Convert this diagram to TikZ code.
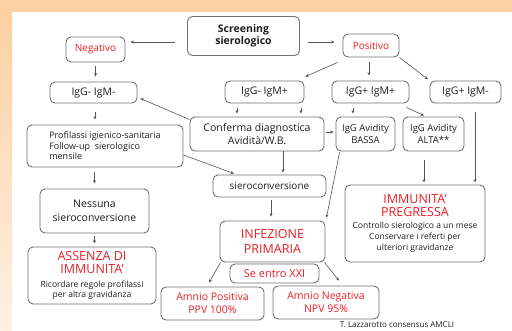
\documentclass[tikz,border=0pt]{standalone}
\usepackage{fontspec}
\setmainfont{Open Sans}
\usetikzlibrary{arrows.meta}

\definecolor{redtxt}{RGB}{236,30,38}
\definecolor{boxline}{RGB}{112,112,112}
\definecolor{wire}{RGB}{85,85,85}
\definecolor{inktxt}{RGB}{30,30,30}
\definecolor{bandtop}{RGB}{252,208,162}
\definecolor{bandlow}{RGB}{254,240,228}

% red headline text inside boxes
\newcommand\hotline[1]{{\color{redtxt}#1}}

\tikzset{
  box/.style={draw=boxline, line width=0.9pt, rounded corners=5pt, fill=white,
              inner sep=1pt, align=center, text=inktxt},
  fz/.style 2 args={font=\fontsize{#1}{#2}\selectfont},
  hot/.style={text=redtxt},
  arr/.style={draw=wire, line width=0.6pt, -{Stealth[length=3.4pt,width=3pt]}},
}

\begin{document}
\begin{tikzpicture}[x=1pt,y=-1pt]
\useasboundingbox (0,0) rectangle (512,331);

% page background: orange band on top and shaded band on the left
\fill[white] (0,0) rectangle (512,331);
\fill[bandtop] (0,0) rectangle (512,12);
\shade[top color=bandtop, bottom color=bandlow] (0,12) rectangle (12,331);

% ---- first level
\node[box, minimum width=112pt, minimum height=39pt, font=\bfseries\fontsize{10.5}{12.5}\selectfont]
  (scr) at (243.5,36) {Screening\\sierologico};
\node[box, hot, minimum width=59pt, minimum height=25pt, fz={10}{12}] (neg) at (95.5,49.5) {Negativo};
\node[box, hot, minimum width=56pt, minimum height=23pt, fz={10}{12}] (pos) at (371,45.5) {Positivo};

% ---- serology results
\node[box, minimum width=87pt, minimum height=21pt, fz={10.5}{12}] (iggL) at (93.5,92.5) {IgG- IgM-};
\node[box, minimum width=79pt, minimum height=22pt, fz={10.5}{12}] (igmP) at (264.5,92) {IgG- IgM+};
\node[box, minimum width=77pt, minimum height=22pt, fz={10.5}{12}] (iggPP) at (370.5,92) {IgG+ IgM+};
\node[box, minimum width=71pt, minimum height=22pt, fz={10.5}{12}] (iggPM) at (465.5,92) {IgG+ IgM-};

% ---- second row
\node[box, align=left, minimum width=156pt, minimum height=42pt, fz={9}{10.5}] (prof) at (105,146)
  {Profilassi igienico-sanitaria\\Follow-up\ \ sierologico\\mensile};
\node[box, minimum width=134pt, minimum height=34pt, fz={10.5}{12.5}] (conf) at (257,134)
  {Conferma diagnostica\\Avidità/W.B.};
\node[box, minimum width=59pt, minimum height=34pt, fz={9.5}{11.5}] (bassa) at (365.5,134)
  {IgG Avidity\\BASSA};
\node[box, minimum width=61pt, minimum height=34pt, fz={9.5}{11.5}] (alta) at (433.5,134)
  {IgG Avidity\\ALTA**};

% ---- seroconversion branch
\node[box, minimum width=113pt, minimum height=22pt, fz={10}{12}] (sieroc) at (269.5,186) {sieroconversione};
\node[box, minimum width=109pt, minimum height=44pt, fz={10.5}{14}] (ness) at (94.5,211)
  {Nessuna\\sieroconversione};
\node[box, minimum width=128pt, minimum height=57pt, fz={8.5}{9.5}] (assenza) at (92,275.5)
  {\hotline{\fontsize{12.5}{9.5}\selectfont ASSENZA DI}\\[3.5pt]
   \hotline{\fontsize{12.5}{9.5}\selectfont IMMUNITA'}\\[4.5pt]
   Ricordare regole profilassi\\per altra gravidanza};

% ---- primary infection
\node[box, hot, minimum width=105pt, minimum height=41pt, fz={12.5}{15}] (infez) at (272.5,241.5)
  {INFEZIONE\\PRIMARIA};
\node[box, hot, minimum width=89pt, minimum height=19pt, fz={11}{13}] (entro) at (274.5,273.5) {Se entro XXI};
\node[box, hot, minimum width=103pt, minimum height=33pt, fz={10.5}{13}] (apos) at (212.5,303.5)
  {Amnio Positiva\\PPV 100\%};
\node[box, hot, minimum width=106pt, minimum height=33pt, fz={10.5}{13}] (aneg) at (326,302.5)
  {Amnio Negativa\\NPV 95\%};

% ---- past immunity
\node[box, minimum width=140pt, minimum height=77pt, fz={8.5}{11}] (immun) at (415,223.5)
  {\hotline{\fontsize{12.5}{11}\selectfont IMMUNITA'}\\[2pt]
   \hotline{\fontsize{12.5}{11}\selectfont PREGRESSA}\\[1pt]
   Controllo sierologico a un mese\\Conservare i referti per\\ulteriori gravidanze};

% ---- source
\node[fz={8}{10}, text=inktxt, inner sep=0pt] (src) at (397,325) {T. Lazzarotto consensus AMCLI};

% ---- connectors
\draw[arr, shorten <=12pt, shorten >=5pt] ([yshift=-6pt]scr.west) -- ([yshift=-6pt]scr.west -| neg.east);
\draw[arr, shorten <=8pt, shorten >=8pt] ([yshift=-6pt]scr.east) -- ([yshift=-6pt]scr.east -| pos.west);
\draw[arr, shorten <=4pt, shorten >=5pt] (neg.south) -- (neg.south |- iggL.north);
\draw[arr, shorten <=9pt, shorten >=5pt] ([xshift=1.5pt]iggL.south) -- ([xshift=1.5pt]iggL.south |- prof.north);
\draw[arr] ([xshift=-5pt,yshift=-5pt]pos.south west) -- ([xshift=1pt,yshift=4pt]igmP.north east);
\draw[arr, shorten <=5pt, shorten >=5pt] ([xshift=-2pt]pos.south) -- ([xshift=-2pt]pos.south |- iggPP.north);
\draw[arr, shorten >=2pt] (pos.south east) -- (iggPM.north west);
\draw[arr, shorten <=5pt, shorten >=3pt] ([xshift=-27.5pt]igmP.south) -- ([xshift=-27.5pt]igmP.south |- conf.north);
\draw[arr, shorten <=5pt, shorten >=3pt] ([xshift=36.5pt]igmP.south) -- ([xshift=36.5pt]igmP.south |- conf.north);
\draw[arr, shorten <=5pt, shorten >=3pt] ([xshift=-17.5pt]iggPP.south) -- ([xshift=-17.5pt]iggPP.south |- bassa.north);
\draw[arr] ([xshift=-3pt,yshift=-4pt]iggPP.south east) -- ([xshift=-9.5pt,yshift=1pt]alta.north);
\draw[arr] ([yshift=-3pt]conf.north west) -- ([xshift=3pt,yshift=-6pt]iggL.east);
\draw[arr, shorten <=1.5pt, shorten >=2pt] ([yshift=2pt]conf.east) -- ([yshift=2pt]conf.east -| bassa.west);
\draw[arr] ([yshift=-9pt]prof.east) -- ([xshift=-35.5pt,yshift=1pt]sieroc.north);
\draw[arr, shorten >=2pt] ([xshift=26pt]conf.south) -- ([xshift=26pt]conf.south |- sieroc.north);
\draw[arr, shorten <=5pt, shorten >=5pt] (ness.north |- prof.south) -- (ness.north);
\draw[arr, shorten <=3pt, shorten >=3pt] (ness.south) -- (ness.south |- assenza.north);
\draw[arr, shorten <=3pt, shorten >=4pt] ([xshift=1.5pt]sieroc.south) -- ([xshift=1.5pt]sieroc.south |- infez.north);
\draw[arr] ([xshift=4pt,yshift=-1pt]bassa.south west) -- ([xshift=1pt,yshift=3pt]infez.north east);
\draw[arr, shorten <=9pt, shorten >=2pt] ([xshift=-9.5pt]alta.south) -- ([xshift=-9.5pt]alta.south |- immun.north);
\draw[arr, shorten <=9pt, shorten >=2pt] ([xshift=9.5pt]iggPM.south) -- ([xshift=9.5pt]iggPM.south |- immun.north);
\draw[arr] ([xshift=1pt]infez.south west) -- ([xshift=-3.5pt,yshift=4pt]apos.north);
\draw[arr] ([xshift=-1pt]infez.south east) -- ([xshift=13pt,yshift=5pt]aneg.north);
\end{tikzpicture}
\end{document}
